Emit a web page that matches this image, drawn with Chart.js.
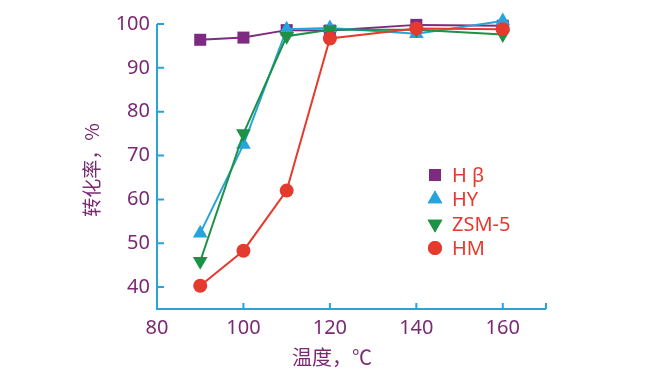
<!DOCTYPE html>
<html><head><meta charset="utf-8">
<script src="https://cdn.jsdelivr.net/npm/chart.js@4/dist/chart.umd.min.js"></script>
<style>html,body{margin:0;padding:0;background:#fff}#wrap{width:659px;height:376px;position:relative}</style>
</head><body><div id="wrap"><canvas id="c" width="659" height="376"></canvas></div>
<script>
const temps = [90, 100, 110, 120, 140, 160];
const hBeta = [96.4, 96.9, 98.6, 98.5, 99.8, 99.6];
const hY = [52.3, 72.5, 98.8, 99.1, 97.8, 100.7];
const zsm5 = [45.9, 75.0, 97.2, 98.7, 98.7, 97.6];
const hM = [40.3, 48.3, 62.0, 96.7, 99.0, 98.8];
const seriesNames = ['H β', 'HY', 'ZSM-5', 'HM'];
const xTicks = [80, 100, 120, 140, 160, 170];
const yTicks = [40, 50, 60, 70, 80, 90, 100];
const xTitle = '温度，℃';
const yTitle = '转化率，%';

const purple = '#7d2a80', blue = '#27a4dc', green = '#1d9146', red = '#e63a2f';
const axisCol = '#2aa3d9', labelCol = '#7a2a72';
const toXY = arr => arr.map((v, i) => ({x: temps[i], y: v}));
const styles = [
  {c: purple, ps: 'rect', r: 8.5, rot: 0},
  {c: blue, ps: 'triangle', r: 8.5, rot: 0},
  {c: green, ps: 'triangle', r: 8.5, rot: 180},
  {c: red, ps: 'circle', r: 7, rot: 0}
];
const datas = [hBeta, hY, zsm5, hM];
const datasets = datas.map((d, i) => ({
  label: seriesNames[i], data: toXY(d), borderColor: styles[i].c, backgroundColor: styles[i].c,
  pointStyle: styles[i].ps, pointRadius: styles[i].r, pointRotation: styles[i].rot,
  pointBorderWidth: 0, borderWidth: 2, tension: 0, clip: false, order: 3 - i
}));

const extras = {
  id: 'extras',
  afterDraw(chart) {
    const ctx = chart.ctx, xs = chart.scales.x, ys = chart.scales.y, a = chart.chartArea;
    ctx.save();
    ctx.strokeStyle = axisCol; ctx.lineWidth = 2;
    ctx.beginPath();
    ctx.moveTo(a.left, a.top); ctx.lineTo(a.left, a.bottom); ctx.lineTo(a.right, a.bottom);
    ctx.stroke();
    ctx.beginPath();
    yTicks.forEach(t => { const p = ys.getPixelForValue(t); ctx.moveTo(a.left, p); ctx.lineTo(a.left + 7, p); });
    xTicks.forEach(t => { if (t === 80) return; const p = xs.getPixelForValue(t); ctx.moveTo(p, a.bottom); ctx.lineTo(p, a.bottom - 6); });
    ctx.stroke();
    // titles
    ctx.fillStyle = labelCol;
    ctx.font = '20px "Noto Sans CJK SC"';
    ctx.textAlign = 'center'; ctx.textBaseline = 'middle';
    ctx.fillText(xTitle, 332, 357);
    ctx.translate(92, 170); ctx.rotate(-Math.PI / 2);
    ctx.font = '19px "Noto Sans CJK SC"';
    ctx.fillText(yTitle, 0, 0);
    ctx.restore();
    // legend
    ctx.save();
    const rows = [175, 199, 224, 248];
    ctx.font = '20px "Noto Sans"';
    ctx.textAlign = 'left'; ctx.textBaseline = 'middle';
    chart.data.datasets.forEach((ds, i) => {
      const st = styles[i];
      ctx.fillStyle = st.c;
      Chart.helpers.drawPoint(ctx, {pointStyle: st.ps, radius: st.r, rotation: st.rot, borderWidth: 0}, 435, rows[i]);
      ctx.fill();
      ctx.fillStyle = red;
      ctx.fillText(ds.label, 452, rows[i] + 1);
    });
    ctx.restore();
  }
};

new Chart(document.getElementById('c'), {
  type: 'line',
  data: {datasets},
  options: {
    responsive: false, animation: false,
    layout: {padding: {left: 0, right: 113, top: 24, bottom: 0}},
    plugins: {legend: {display: false}, tooltip: {enabled: false}},
    scales: {
      x: {
        type: 'linear', min: 80, max: 170,
        afterBuildTicks: s => { s.ticks = xTicks.map(v => ({value: v})); },
        afterFit: s => { s.height = 67; },
        grid: {display: false, drawTicks: false}, border: {display: false},
        ticks: {color: labelCol, font: {family: 'Noto Sans', size: 20}, padding: 7,
          callback: v => v === 170 ? '' : String(v), maxRotation: 0, autoSkip: false}
      },
      y: {
        type: 'linear', min: 35, max: 100,
        afterBuildTicks: s => { s.ticks = yTicks.map(v => ({value: v})); },
        afterFit: s => { s.width = 157; },
        grid: {display: false, drawTicks: false}, border: {display: false},
        ticks: {color: labelCol, font: {family: 'Noto Sans', size: 20}, padding: 7, autoSkip: false}
      }
    }
  },
  plugins: [extras]
});
</script></body></html>
